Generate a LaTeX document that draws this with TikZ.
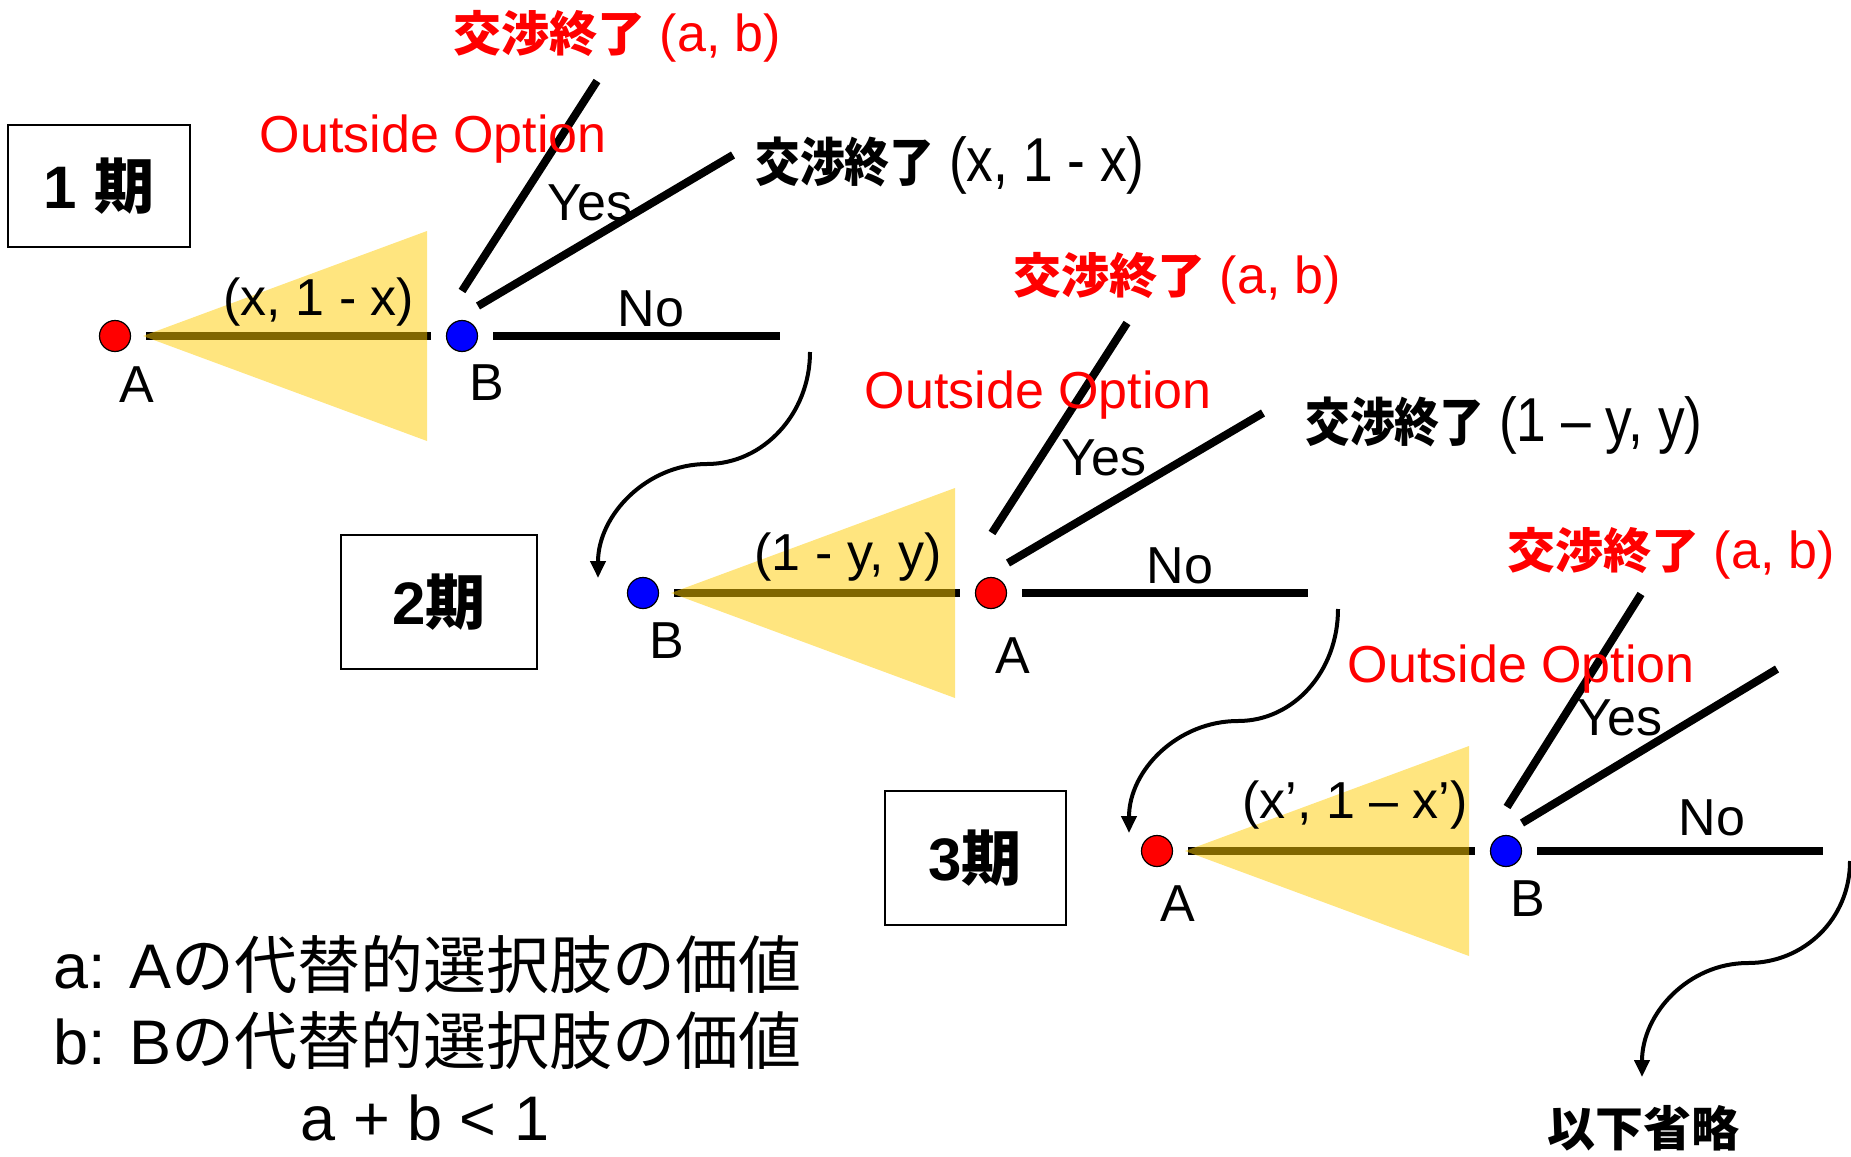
\documentclass[tikz,border=0pt]{standalone}
\usepackage{fontspec}
\usepackage{xcolor}
\usepackage{tikz}
\usetikzlibrary{arrows.meta, positioning, calc}
\setmainfont{Liberation Sans}
\newfontfamily\jp{Noto Sans CJK JP}
\definecolor{offergold}{RGB}{255, 204, 0}

\begin{document}
\begin{tikzpicture}[x=0.5pt, y=-0.5pt,
    dotA/.style={circle, draw=black, line width=0.6pt, fill=red, minimum size=15.5pt, inner sep=0pt},
    dotB/.style={dotA, fill=blue},
    offer/.style={line width=4pt, shorten <=7.5pt, shorten >=7.5pt},
    branch/.style={line width=4pt},
    nobranch/.style={line width=4pt, shorten <=7.5pt},
    flow/.style={line width=2pt, -{Triangle[length=8.5pt, width=7.5pt]}},
    txt/.style={inner sep=0pt, font=\fontsize{26}{30}\selectfont},
    redtxt/.style={txt, text=red},
    endtxt/.style={inner sep=0pt, anchor=base west, font=\fontsize{31}{36}\selectfont},
    periodbox/.style={draw, line width=1pt, inner sep=0pt, font=\fontsize{30}{34}\selectfont\bfseries},
    memo/.style={inner sep=0pt, font=\fontsize{31.5}{38}\selectfont}]
    \useasboundingbox (0,0) rectangle (1851,1156);

    % 期の枠
    \node[periodbox, minimum width=91pt, minimum height=61pt] (t1) at (99,186) {1 {\jp 期}};
    \node[periodbox, minimum width=98pt, minimum height=67pt] (t2) at (439,602) {2{\jp 期}};
    \node[periodbox, minimum width=90.5pt, minimum height=67pt] (t3) at (975,858) {3{\jp 期}};

    % 手番の点
    \node[dotA] (pA1) at (115,336) {};
    \node[dotB] (pB1) at (462,336) {};
    \node[dotB] (pB2) at (643,593) {};
    \node[dotA] (pA2) at (991,593) {};
    \node[dotA] (pA3) at (1157,851) {};
    \node[dotB] (pB3) at (1506,851) {};
    \node[txt] (lA1) at ($(pA1)+(22,49)$) {A};
    \node[txt] (lB1) at ($(pB1)+(25,47)$) {B};
    \node[txt] (lB2) at ($(pB2)+(24,48)$) {B};
    \node[txt] (lA2) at ($(pA2)+(22,63)$) {A};
    \node[txt] (lA3) at ($(pA3)+(21,53)$) {A};
    \node[txt] (lB3) at ($(pB3)+(22,48)$) {B};

    % 提案（線と扇形）
    \foreach \p/\q in {pA1/pB1, pB2/pA2, pA3/pB3} {
        \draw[offer] (\p) -- (\q);
        \fill[offergold, opacity=0.5] ($(\p)+(28,0)$) -- ($(\p)+(312,-105)$)
            -- ($(\p)+(312,105)$) -- cycle;
    }
    \node[txt, anchor=base] (o1) at (319,315) {(x, 1 - x)};
    \node[txt, anchor=base] (o2) at (848,570) {(1 - y, y)};
    \node[txt, anchor=base] (o3) at (1355,818) {(x’, 1 – x’)};

    % No の枝
    \coordinate (nB1) at (780,336);
    \coordinate (nA2) at (1308,593);
    \coordinate (nB3) at (1823,851);
    \draw[nobranch] (pB1) -- (nB1);
    \draw[nobranch] (pA2) -- (nA2);
    \draw[nobranch] (pB3) -- (nB3);
    \node[txt, anchor=base] (no1) at (651,326) {No};
    \node[txt, anchor=base] (no2) at (1180,583) {No};
    \node[txt, anchor=base] (no3) at (1712,835) {No};

    % Yes と Outside Option の枝
    \coordinate (ab1) at (597,81);
    \coordinate (xe1) at (733,155);
    \coordinate (ab2) at (1127,323);
    \coordinate (xe2) at (1263,413);
    \coordinate (ab3) at (1641,594);
    \coordinate (xe3) at (1777,669);
    \draw[branch] (pB1) ++(0,-45) -- (ab1);
    \draw[branch] (pB1) ++(16,-30) -- (xe1);
    \draw[branch] (pA2) ++(1,-60) -- (ab2);
    \draw[branch] (pA2) ++(17,-30) -- (xe2);
    \draw[branch] (pB3) ++(1,-44) -- (ab3);
    \draw[branch] (pB3) ++(16,-28) -- (xe3);
    \node[txt, anchor=base] (y1) at (590,220) {Yes};
    \node[txt, anchor=base] (y2) at (1104,475) {Yes};
    \node[txt, anchor=base] (y3) at (1620,735) {Yes};
    \node[redtxt, anchor=base east] (oo1) at (607,153) {Outside Option};
    \node[redtxt, anchor=base east] (oo2) at (1212,408) {Outside Option};
    \node[redtxt, anchor=base east] (oo3) at (1695,682) {Outside Option};

    % 交渉終了
    \node[redtxt, anchor=base west] (e1) at (453,52) {{\jp\bfseries\fontsize{24}{28}\selectfont 交渉終了} (a, b)};
    \node[redtxt, anchor=base west] (e2) at (1013,293) {{\jp\bfseries\fontsize{24}{28}\selectfont 交渉終了} (a, b)};
    \node[redtxt, anchor=base west] (e3) at (1507,568) {{\jp\bfseries\fontsize{24}{28}\selectfont 交渉終了} (a, b)};
    \node[endtxt] (f1) at (755,181) {\scalebox{0.86}[1]{{\jp\bfseries\fontsize{26}{30}\selectfont 交渉終了} (x, 1 - x)}};
    \node[endtxt] (f2) at (1305,441) {\scalebox{0.86}[1]{{\jp\bfseries\fontsize{26}{30}\selectfont 交渉終了} (1 – y, y)}};

    % 次の期へ
    \coordinate (cut) at (1642,1077);
    \draw[flow] ($(nB1)+(30,16)$) .. controls +(0,62) and +(56,0) .. (707,464)
        .. controls +(-60,0) and +(0,-63) .. ($(pB2)+(-45,-15)$);
    \draw[flow] ($(nA2)+(30,16)$) .. controls +(0,62) and +(56,0) .. (1238,721)
        .. controls +(-60,0) and +(0,-63) .. ($(pA3)+(-28,-18)$);
    \draw[flow] ($(nB3)+(27,10)$) .. controls +(0,58) and +(56,0) .. (1748,963)
        .. controls +(-60,0) and +(0,-63) .. (cut);
    \node[inner sep=0pt, anchor=base, font=\jp\bfseries\fontsize{24}{28}\selectfont] (etc) at (1643,1146) {以下省略};

    % 注
    \node[memo, anchor=base west] (ma) at (53,988) {a: A{\jp の代替的選択肢の価値}};
    \node[memo, anchor=base west] (mb) at (53,1064) {b: B{\jp の代替的選択肢の価値}};
    \node[memo, anchor=base] (mab) at (425,1140) {a + b < 1};
\end{tikzpicture}
\end{document}
